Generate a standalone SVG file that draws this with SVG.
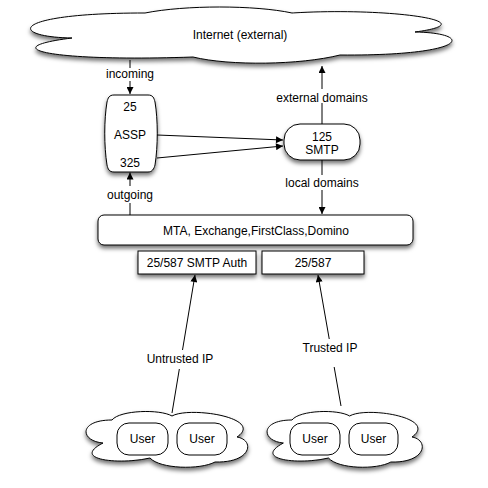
<svg xmlns="http://www.w3.org/2000/svg" width="488" height="488" viewBox="0 0 488 488">
<style>
  .shape { fill: #fff; stroke: #000; stroke-width: 1; }
  .line { fill: none; stroke: #000; stroke-width: 1; }
  .arrow { marker-end: url(#arr); }
  text { font-family: "Liberation Sans", Arial, Helvetica, sans-serif; font-size: 12px; fill: #000; text-anchor: middle; }
  .bg { fill: #fff; stroke: none; }
</style>
<defs>
  <filter id="sh" x="-20%" y="-30%" width="140%" height="170%">
    <feDropShadow dx="0" dy="3" stdDeviation="2.2" flood-color="#000" flood-opacity="0.55"/>
  </filter>
  <marker id="arr" viewBox="0 0 10 10" refX="10" refY="5" markerWidth="8" markerHeight="7" orient="auto" markerUnits="userSpaceOnUse">
    <path d="M0,0 L10,5 L0,10 z" fill="#000"/>
  </marker>
  <path id="smallCloud" d="M 103 443 C 80 441, 78 420, 112 420 C 120 410, 160 409, 172 416 C 190 406, 265 418, 237 437 C 255 440, 252 463, 215 462 C 200 470, 160 469, 150 458 C 120 465, 70 460, 103 443 Z"/>
</defs>
<rect width="488" height="488" fill="#fff"/>

<g id="internet">
  <path class="shape" filter="url(#sh)" d="M 72 38 C 8 37, 8 13, 145 13 C 185 5, 255 5, 292 13 C 390 7, 490 22, 415 32 C 475 33, 470 56, 340 55 C 300 65, 230 66, 193 57 C 50 62, -8 48, 72 38 Z"/>
  <text x="240" y="39">Internet (external)</text>
</g>

<g id="assp">
  <path class="shape" filter="url(#sh)" d="M 114 95 L 148 95 C 153 95 154 98 155 102 C 158 120 158 146 155 165 C 154 169 152 172 148 172 L 114 172 C 109 172 108 169 107 165 C 104 146 104 120 107 102 C 108 98 109 95 114 95 Z"/>
  <text x="130" y="111">25</text>
  <text x="130" y="139">ASSP</text>
  <text x="130" y="167">325</text>
</g>

<g id="smtp">
  <rect class="shape" filter="url(#sh)" x="284" y="124" width="76" height="36" rx="16" ry="16"/>
  <text x="322" y="141">125</text>
  <text x="322" y="154">SMTP</text>
</g>

<g id="mta">
  <rect class="shape" filter="url(#sh)" x="98" y="215" width="315" height="30" rx="6" ry="6"/>
  <text x="256" y="235">MTA, Exchange,FirstClass,Domino</text>
</g>

<g id="auth-port">
  <rect class="shape" filter="url(#sh)" x="138" y="251" width="118" height="23"/>
  <text x="197" y="267">25/587 SMTP Auth</text>
</g>

<g id="trusted-port">
  <rect class="shape" filter="url(#sh)" x="262" y="251" width="102" height="23"/>
  <text x="313" y="267">25/587</text>
</g>

<g id="untrusted-users">
  <use href="#smallCloud" class="shape" filter="url(#sh)"/>
  <rect class="shape" x="117" y="423" width="51" height="32" rx="12" ry="12"/>
  <text x="142.5" y="443">User</text>
  <rect class="shape" x="177" y="423" width="50" height="32" rx="12" ry="12"/>
  <text x="202" y="443">User</text>
</g>

<g id="trusted-users">
  <use href="#smallCloud" class="shape" filter="url(#sh)" transform="translate(268,0) scale(0.96,1) translate(-87,0)"/>
  <rect class="shape" x="290" y="423" width="50" height="32" rx="12" ry="12"/>
  <text x="315" y="443">User</text>
  <rect class="shape" x="349" y="423" width="49" height="32" rx="12" ry="12"/>
  <text x="373.5" y="443">User</text>
</g>

<g id="connectors">
  <line class="line arrow" x1="130" y1="60" x2="130" y2="94"/>
  <rect class="bg" x="106" y="68" width="48" height="13"/>
  <text x="130" y="78">incoming</text>

  <line class="line arrow" x1="322" y1="124" x2="322" y2="66"/>
  <rect class="bg" x="275" y="89" width="94" height="14"/>
  <text x="322" y="102">external domains</text>

  <line class="line arrow" x1="157" y1="135" x2="283" y2="140"/>
  <line class="line arrow" x1="157" y1="158" x2="283" y2="146"/>

  <line class="line arrow" x1="322" y1="160" x2="322" y2="214"/>
  <rect class="bg" x="284" y="175" width="76" height="15"/>
  <text x="322" y="187">local domains</text>

  <line class="line arrow" x1="130" y1="215" x2="130" y2="172.5"/>
  <rect class="bg" x="105" y="186" width="50" height="17"/>
  <text x="130" y="199">outgoing</text>

  <line class="line arrow" x1="172" y1="413" x2="195" y2="275"/>
  <rect class="bg" x="145" y="350" width="70" height="19"/>
  <text x="180" y="363">Untrusted IP</text>

  <line class="line arrow" x1="341" y1="406" x2="318" y2="275"/>
  <rect class="bg" x="301" y="339" width="59" height="28"/>
  <text x="330" y="352">Trusted IP</text>
</g>
</svg>
